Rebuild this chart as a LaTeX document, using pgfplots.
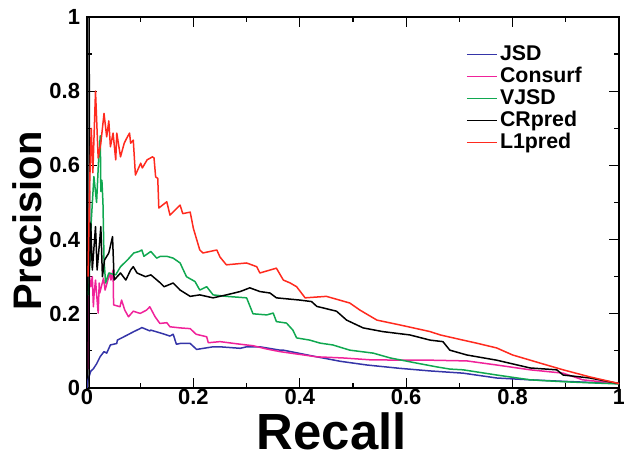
\documentclass[border=0pt]{standalone}
\usepackage{fontspec}
\setmainfont{Liberation Sans}
\usepackage{pgfplots}
\pgfplotsset{compat=1.18}
\usetikzlibrary{calc}
\definecolor{jsdCol}{HTML}{3535A8}
\definecolor{consurfCol}{HTML}{F0229A}
\definecolor{vjsdCol}{HTML}{10A850}
\definecolor{l1Col}{HTML}{FF2A1E}

\begin{document}
\begin{tikzpicture}
\begin{axis}[
  name=ax,
  scale only axis,
  width=266bp, height=185.5bp,
  xmin=0, xmax=1, ymin=0, ymax=1,
  xtick={0,0.2,...,1}, ytick={0,0.2,...,1},
  minor tick num=1,
  major tick length=5bp, minor tick length=2.5bp,
  every tick/.style={black, line width=0.6bp},
  axis line style={line width=1.25bp},
  tick label style={font=\bfseries\fontsize{11}{13}\selectfont},
  xticklabel style={inner sep=0.5bp},
  /pgf/number format/assume math mode=true,
  xlabel={Recall}, ylabel={Precision},
  xlabel style={font=\bfseries\fontsize{25.5}{30}\selectfont, inner sep=0pt,
    at={(axis description cs:0.46,0)}, anchor=center, yshift=-21.5bp},
  ylabel style={font=\bfseries\fontsize{20}{24}\selectfont,
    at={(axis description cs:-0.112,0.45)}, anchor=center, rotate=0},
  legend style={at={(axis description cs:0.712,0.93)}, anchor=north west,
    draw=none, fill=none, inner sep=0pt, row sep=0pt,
    font=\bfseries\fontsize{10.7}{12}\selectfont,
    nodes={inner sep=1.2bp, text height=7.4bp, text depth=1.2bp}},
  legend cell align=left,
  legend image code/.code={\draw[#1] (0bp,0bp) -- (15bp,0bp);},
  every axis plot/.append style={line width=0.75bp, line join=round},
]
% JSD
\addplot[jsdCol] coordinates {
(0,0) (0.002,0.022) (0.007,0.045) (0.012,0.052) (0.018,0.065) (0.025,0.085)
(0.032,0.098) (0.037,0.094) (0.044,0.116) (0.056,0.120) (0.057,0.129)
(0.076,0.143) (0.088,0.152) (0.101,0.161) (0.103,0.163) (0.118,0.154)
(0.120,0.156) (0.141,0.147) (0.156,0.140) (0.162,0.145) (0.168,0.118)
(0.175,0.120) (0.194,0.120) (0.206,0.104) (0.237,0.111) (0.250,0.111)
(0.288,0.107) (0.300,0.111) (0.325,0.111) (0.363,0.102) (0.369,0.102)
(0.432,0.084) (0.476,0.072) (0.526,0.062) (0.588,0.053) (0.645,0.046)
(0.707,0.040) (0.770,0.027) (0.833,0.022) (0.895,0.018) (1.0,0.012)
};
% Consurf
\addplot[consurfCol] coordinates {
(0.003,0.05) (0.004,0.310) (0.007,0.273) (0.010,0.300) (0.012,0.219)
(0.013,0.247) (0.016,0.291) (0.019,0.237) (0.021,0.202) (0.023,0.283)
(0.024,0.256) (0.031,0.296) (0.034,0.264) (0.043,0.310) (0.045,0.291)
(0.049,0.318) (0.050,0.224) (0.062,0.219) (0.065,0.237) (0.071,0.210)
(0.078,0.192) (0.087,0.207) (0.100,0.201) (0.112,0.210) (0.118,0.219)
(0.128,0.192) (0.137,0.174) (0.150,0.176) (0.156,0.165) (0.175,0.162)
(0.194,0.160) (0.205,0.145) (0.225,0.138) (0.228,0.122) (0.250,0.125)
(0.288,0.118) (0.312,0.114) (0.338,0.105) (0.363,0.098) (0.432,0.084)
(0.481,0.081) (0.532,0.076) (0.594,0.075) (0.645,0.075) (0.714,0.073)
(0.770,0.062) (0.833,0.049) (0.895,0.040) (0.932,0.022) (1.0,0.012)
};
% VJSD
\addplot[vjsdCol] coordinates {
(0.003,0.25) (0.008,0.45) (0.013,0.57) (0.018,0.50) (0.022,0.62)
(0.025,0.68) (0.026,0.53) (0.028,0.56) (0.030,0.50) (0.032,0.345)
(0.035,0.283) (0.041,0.310) (0.054,0.305) (0.063,0.327) (0.076,0.345)
(0.088,0.364) (0.098,0.368) (0.103,0.372) (0.107,0.355) (0.120,0.368)
(0.131,0.350) (0.138,0.355) (0.150,0.355) (0.162,0.350) (0.175,0.337)
(0.187,0.300) (0.203,0.287) (0.212,0.264) (0.225,0.273) (0.237,0.251)
(0.262,0.247) (0.300,0.243) (0.312,0.200) (0.338,0.197) (0.350,0.202)
(0.356,0.179) (0.375,0.175) (0.387,0.156) (0.394,0.135) (0.419,0.129)
(0.438,0.121) (0.462,0.116) (0.494,0.102) (0.538,0.094) (0.570,0.081)
(0.620,0.067) (0.657,0.057) (0.682,0.051) (0.707,0.049) (0.770,0.035)
(0.833,0.022) (0.895,0.017) (0.945,0.014) (1.0,0.011)
};
% CRpred
\addplot[black] coordinates {
(0.004,0.0) (0.004,1.0) (0.005,0.330) (0.007,0.444) (0.010,0.318)
(0.016,0.435) (0.019,0.318) (0.024,0.399) (0.026,0.435) (0.029,0.300)
(0.033,0.345) (0.041,0.364) (0.048,0.408) (0.051,0.291) (0.063,0.310)
(0.073,0.291) (0.082,0.318) (0.087,0.327) (0.094,0.310) (0.110,0.300)
(0.120,0.305) (0.138,0.283) (0.145,0.273) (0.162,0.283) (0.175,0.264)
(0.194,0.247) (0.212,0.251) (0.237,0.243) (0.262,0.251) (0.288,0.260)
(0.306,0.270) (0.325,0.260) (0.344,0.256) (0.356,0.243) (0.400,0.237)
(0.422,0.233) (0.432,0.220) (0.469,0.207) (0.488,0.183) (0.519,0.162)
(0.556,0.152) (0.607,0.143) (0.645,0.129) (0.669,0.125) (0.682,0.102)
(0.714,0.089) (0.770,0.075) (0.833,0.054) (0.883,0.049) (0.895,0.035)
(0.945,0.027) (1.0,0.012)
};
% L1pred
\addplot[l1Col] coordinates {
(0.002,0.30) (0.005,0.55) (0.008,0.70) (0.011,0.58) (0.016,0.80)
(0.021,0.62) (0.026,0.66) (0.032,0.74) (0.037,0.677) (0.041,0.72)
(0.044,0.65) (0.049,0.687) (0.054,0.615) (0.056,0.687) (0.063,0.623)
(0.070,0.66) (0.076,0.677) (0.080,0.687) (0.082,0.66) (0.087,0.668)
(0.091,0.574) (0.101,0.606) (0.104,0.593) (0.113,0.615) (0.123,0.623)
(0.126,0.62) (0.129,0.569) (0.133,0.565) (0.135,0.485) (0.142,0.493)
(0.150,0.502) (0.156,0.466) (0.175,0.493) (0.180,0.47) (0.194,0.474)
(0.200,0.43) (0.212,0.372) (0.218,0.364) (0.244,0.372) (0.250,0.353)
(0.262,0.332) (0.300,0.337) (0.319,0.327) (0.325,0.31) (0.356,0.323)
(0.369,0.291) (0.382,0.283) (0.394,0.273) (0.410,0.243) (0.450,0.247)
(0.494,0.229) (0.513,0.21) (0.545,0.183) (0.588,0.17) (0.645,0.152)
(0.664,0.143) (0.707,0.129) (0.732,0.121) (0.770,0.108) (0.800,0.089)
(0.852,0.067) (0.895,0.049) (0.945,0.030) (1.0,0.012)
};
\legend{JSD, Consurf, VJSD, CRpred, L1pred}
\end{axis}
\pgfresetboundingbox
\path ($(ax.south west)+(-43.5bp,-35.5bp)$) rectangle ($(ax.north east)+(2.5bp,8.5bp)$);
\end{tikzpicture}
\end{document}
